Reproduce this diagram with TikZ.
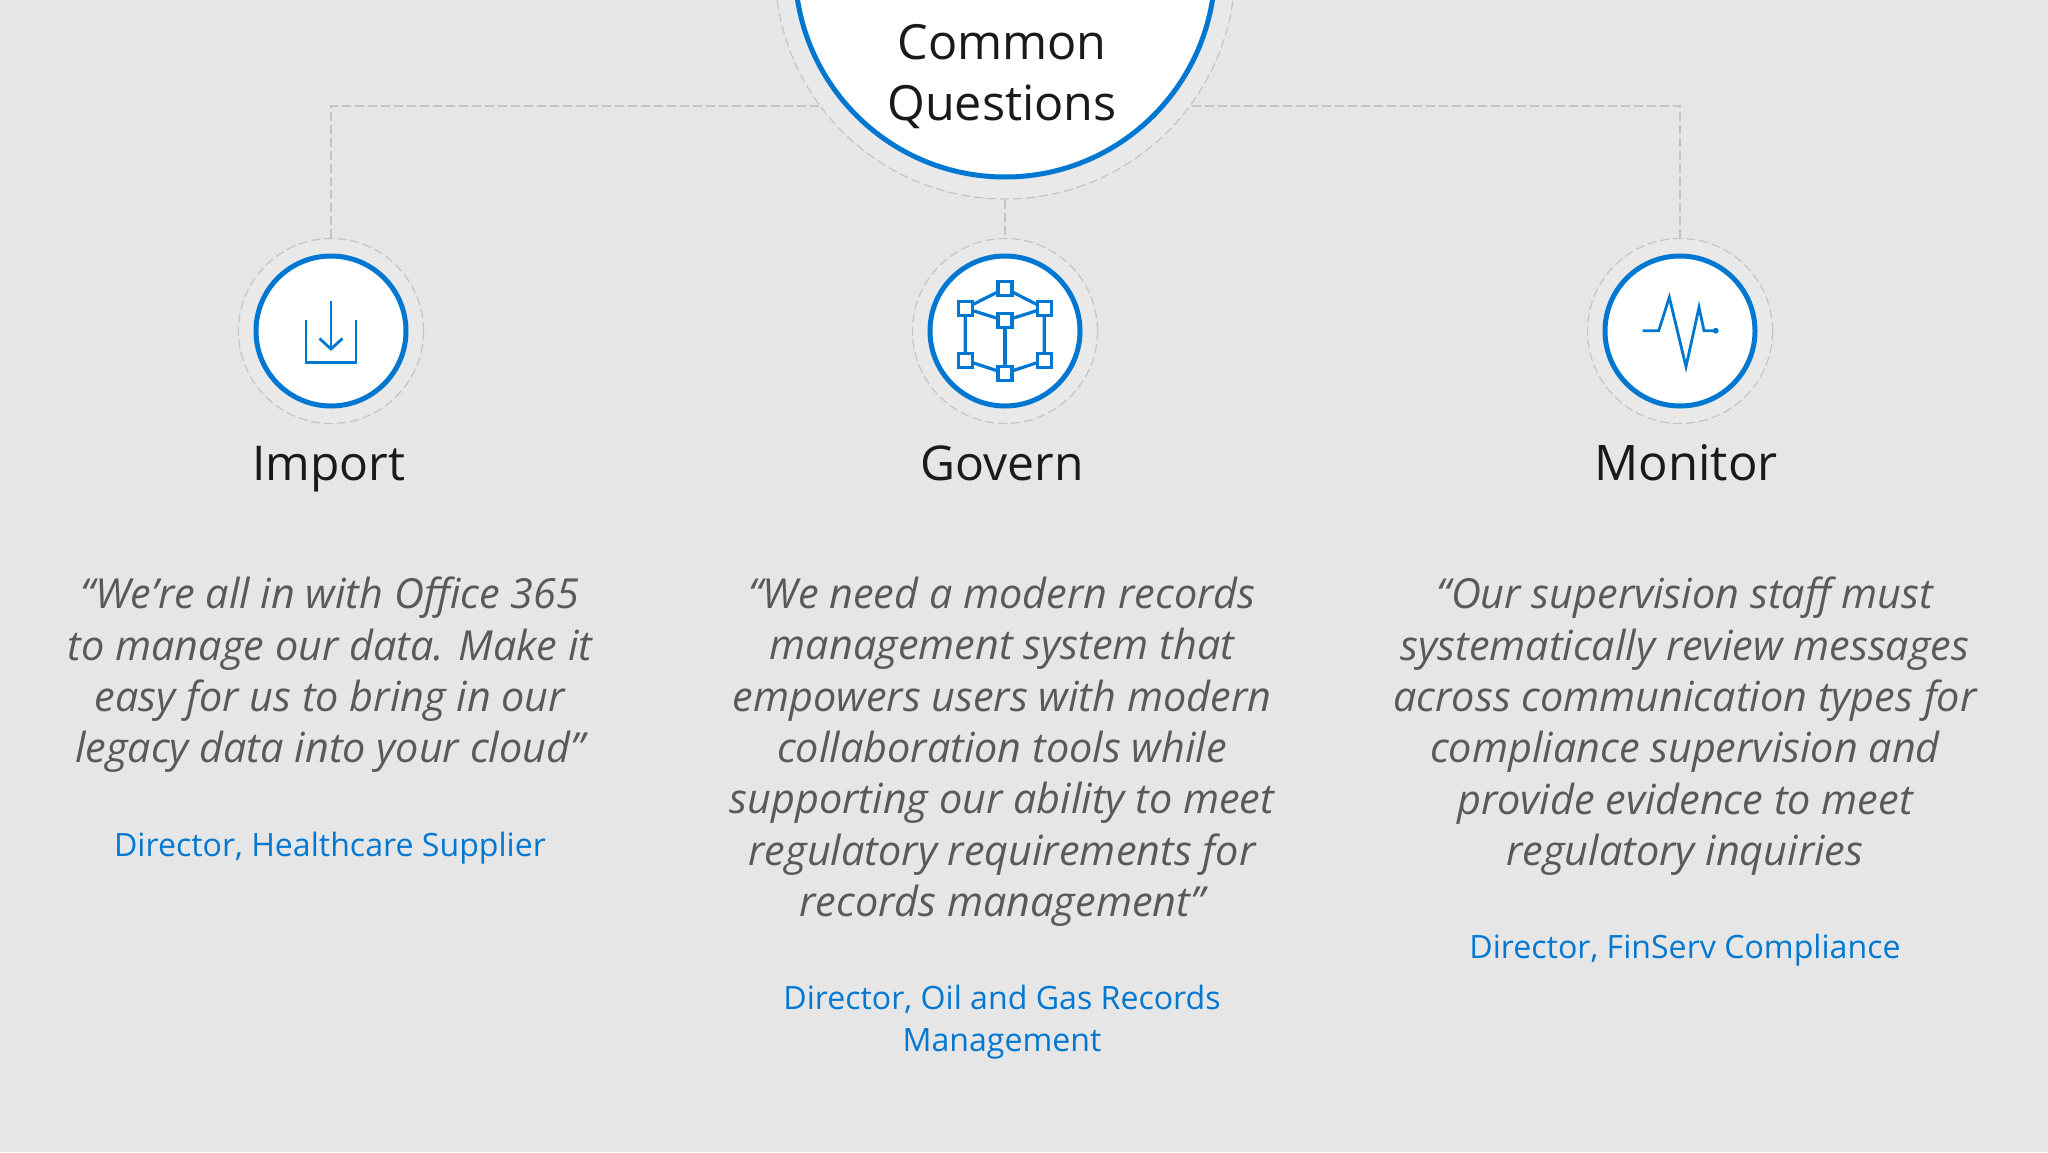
\documentclass[tikz,border=0pt]{standalone}
\usepackage{fontspec}
\setmainfont{Open Sans}
\definecolor{bgc}{HTML}{E6E6E7}
\definecolor{ringc}{HTML}{E9E9E9}
\definecolor{dashc}{HTML}{C4C4C4}
\definecolor{msblue}{HTML}{0078D2}
\definecolor{quotec}{HTML}{595959}
\definecolor{headc}{HTML}{1A1A1A}
\tikzset{
 hub/.style={circle,draw=msblue,line width=5pt,fill=white,inner sep=0pt,minimum size=150pt},
 halo/.style={circle,draw=dashc,line width=1.2pt,dash pattern=on 9pt off 4pt,fill=ringc,inner sep=0pt,minimum size=185pt},
 link/.style={draw=dashc,line width=1.2pt,dash pattern=on 9pt off 4pt},
 heading/.style={font=\fontsize{48}{60}\selectfont,text=headc,inner sep=0pt,anchor=base,align=center},
 quotetext/.style={font=\fontsize{41.4}{51.3}\selectfont\itshape,text=quotec,inner sep=0pt,anchor=north,align=center},
 role/.style={font=\fontsize{32.1}{41.5}\selectfont,text=msblue,inner sep=0pt,anchor=north,align=center},
 glyph/.style={draw=msblue,line width=2.8pt},
 vertex/.style={rectangle,draw=msblue,line width=3.2pt,fill=white,inner sep=0pt,minimum size=14pt},
 edge/.style={draw=msblue,line width=3.2pt},
}
\begin{document}
\begin{tikzpicture}[x=1pt,y=-1pt]
\fill[bgc] (0,0) rectangle (2048,1152);
\useasboundingbox (0,0) rectangle (2048,1152);
\clip (0,0) rectangle (2048,1152);
% junction coordinates
\coordinate (jl) at (819,106);
\coordinate (jr) at (1192,106);
\coordinate (jb) at (1005,200);
% halos
\node[halo,minimum size=460pt] (bighalo) at (1005,-31) {};
\node[halo] (himp) at (331,331) {};
\node[halo] (hgov) at (1005,331) {};
\node[halo] (hmon) at (1680,331) {};
% connectors
\draw[link] (jl) -| (himp.north);
\draw[link] (jr) -| (hmon.north);
\draw[link] (jb) -- (hgov.north);
% hubs
\node[hub,minimum size=420pt] (big) at (1005,-33) {};
\node[hub] (cimp) at (331,331) {};
\node[hub] (cgov) at (1005,331) {};
\node[hub] (cmon) at (1680,331) {};
% title
\node[heading,font=\fontsize{48.5}{61}\selectfont] (title) at (1002,59) {Common};
\node[heading,font=\fontsize{48.5}{61}\selectfont] (title2) at (1002,120) {Questions};
% import icon
\draw[glyph,line join=miter] (306,320) -- (306,362.5) -- (356,362.5) -- (356,320);
\draw[glyph] (331,301) -- (331,348);
\draw[glyph] (319.5,338.5) -- (331,349) -- (342.5,338.5);
% cube icon
\coordinate (vt) at (1005,288.3);
\coordinate (vlu) at (965.3,308.3);
\coordinate (vru) at (1044.3,308.3);
\coordinate (vc) at (1005,320.7);
\coordinate (vld) at (965.3,360.3);
\coordinate (vrd) at (1044.3,360.3);
\coordinate (vb) at (1005,373.3);
\draw[edge] (vt) -- (vlu) -- (vld) -- (vb) -- (vrd) -- (vru) -- (vt);
\draw[edge] (vlu) -- (vc) -- (vru);
\draw[edge] (vc) -- (vb);
\foreach \v in {vt,vlu,vru,vc,vld,vrd,vb} \node[vertex] at (\v) {};
% pulse icon
\draw[glyph,line join=miter] (1642.7,330.7) -- (1658.7,330.7) -- (1669.3,297.3) -- (1686,366.7) -- (1699,307.3) -- (1704,330.7) -- (1715.7,330.7);
\fill[msblue] (1715.7,330.7) circle (2.9);
% headings
\node[heading] (himport) at (329,480) {Import};
\node[heading] (hgovern) at (1002,480) {Govern};
\node[heading,font=\fontsize{49}{60}\selectfont] (hmonitor) at (1686,480) {Monitor};
% quotes
\node[quotetext] (qa) at (330,577) {“We’re all in with Office 365\\to manage our data. Make it\\easy for us to bring in our\\legacy data into your cloud”};
\node[quotetext] (qb) at (1002,577) {“We need a modern records\\management system that\\empowers users with modern\\collaboration tools while\\supporting our ability to meet\\regulatory requirements for\\records management”};
\node[quotetext] (qc) at (1685,577) {“Our supervision staff must\\systematically review messages\\across communication types for\\compliance supervision and\\provide evidence to meet\\regulatory inquiries};
% roles
\node[role] (ra) at (330,832) {Director, Healthcare Supplier};
\node[role] (rb) at (1002,985) {Director, Oil and Gas Records\\Management};
\node[role] (rc) at (1685,934) {Director, FinServ Compliance};
\end{tikzpicture}
\end{document}
